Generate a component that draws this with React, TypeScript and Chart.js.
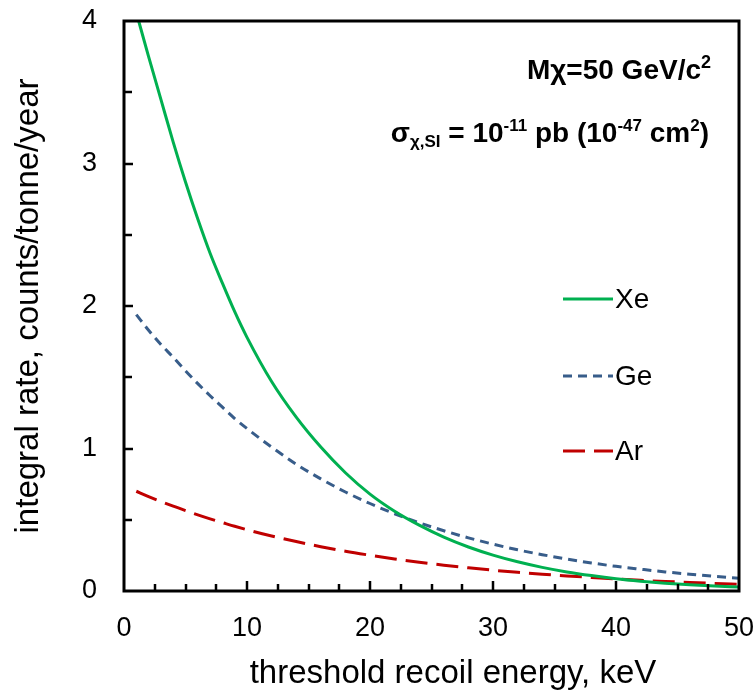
import React, { useEffect, useRef } from "react";
import { Chart, registerables } from "chart.js";

Chart.register(...registerables);

// ---- data ----
const energies = [1, 2, 3, 4, 5, 6, 7, 8, 9, 10, 12, 14, 16, 18, 20, 22, 24, 26, 28, 30, 32, 34, 36, 38, 40, 42, 44, 46, 48, 50];
const xeRate = [4.06, 3.75, 3.45, 3.15, 2.87, 2.61, 2.37, 2.16, 1.96, 1.78, 1.47, 1.22, 1.01, 0.83, 0.68, 0.56, 0.462, 0.378, 0.309, 0.252, 0.205, 0.166, 0.134, 0.108, 0.086, 0.069, 0.055, 0.044, 0.035, 0.028];
const geRate = [1.94, 1.83, 1.73, 1.64, 1.545, 1.455, 1.37, 1.29, 1.21, 1.14, 1.01, 0.89, 0.787, 0.695, 0.614, 0.542, 0.479, 0.423, 0.373, 0.329, 0.289, 0.255, 0.224, 0.197, 0.173, 0.153, 0.134, 0.118, 0.103, 0.09];
const arRate = [0.7, 0.663, 0.628, 0.595, 0.564, 0.534, 0.506, 0.48, 0.454, 0.43, 0.386, 0.347, 0.311, 0.279, 0.251, 0.225, 0.202, 0.181, 0.163, 0.146, 0.131, 0.118, 0.106, 0.095, 0.084, 0.075, 0.067, 0.06, 0.053, 0.047];
const seriesNames = ["Xe", "Ge", "Ar"];
const xRange = [0, 50];
const yRange = [0, 4];
const xMajorStep = 10;
const xMinorStep = 2.5;
const yMajorStep = 1;
const yMinorStep = 0.5;
const xTitle = "threshold recoil energy, keV";
const yTitle = "integral rate, counts/tonne/year";

const FONT = '"Liberation Sans", Arial, Helvetica, sans-serif';

type Run = { t: string; size: number; dy: number };

function drawRuns(ctx: CanvasRenderingContext2D, runs: Run[], right: number, baseline: number) {
  let total = 0;
  const widths = runs.map((r) => {
    ctx.font = `bold ${r.size}px ${FONT}`;
    const w = ctx.measureText(r.t).width;
    total += w;
    return w;
  });
  let x = right - total;
  runs.forEach((r, i) => {
    ctx.font = `bold ${r.size}px ${FONT}`;
    ctx.fillText(r.t, x, baseline + r.dy);
    x += widths[i];
  });
}

const decorPlugin = {
  id: "decor",
  afterDatasetsDraw(chart: any) {
    const { ctx, chartArea: a, scales } = chart;
    const xs = scales.x;
    const ys = scales.y;
    ctx.save();
    ctx.setLineDash([]);
    ctx.strokeStyle = "#000";
    ctx.lineWidth = 3;
    ctx.strokeRect(a.left, a.top, a.right - a.left, a.bottom - a.top);
    ctx.lineWidth = 2.5;
    ctx.beginPath();
    for (let v = xRange[0] + xMinorStep; v < xRange[1]; v += xMinorStep) {
      const px = Math.round(xs.getPixelForValue(v));
      const len = Math.abs(v % xMajorStep) < 1e-9 ? 10 : 7;
      ctx.moveTo(px, a.bottom);
      ctx.lineTo(px, a.bottom - len);
    }
    for (let v = yRange[0] + yMinorStep; v < yRange[1]; v += yMinorStep) {
      const py = Math.round(ys.getPixelForValue(v));
      const len = Math.abs(v % yMajorStep) < 1e-9 ? 9 : 8;
      ctx.moveTo(a.left, py);
      ctx.lineTo(a.left + len, py);
    }
    ctx.stroke();

    // legend
    const legendY = [299, 376, 451];
    chart.data.datasets.forEach((ds: any, i: number) => {
      ctx.strokeStyle = ds.borderColor;
      ctx.lineWidth = ds.borderWidth;
      ctx.setLineDash(ds.borderDash || []);
      ctx.beginPath();
      ctx.moveTo(563, legendY[i]);
      ctx.lineTo(613, legendY[i]);
      ctx.stroke();
      ctx.setLineDash([]);
      ctx.fillStyle = "#000";
      ctx.font = `28px ${FONT}`;
      ctx.textAlign = "left";
      ctx.textBaseline = "middle";
      ctx.fillText(ds.label, 615, legendY[i] + 1);
    });

    // annotations
    ctx.fillStyle = "#000";
    ctx.textAlign = "left";
    ctx.textBaseline = "alphabetic";
    drawRuns(ctx, [
      { t: "M\u03C7=50 GeV/c", size: 28, dy: 0 },
      { t: "2", size: 18, dy: -11 },
    ], 711, 79);
    drawRuns(ctx, [
      { t: "\u03C3", size: 28, dy: 0 },
      { t: "\u03C7,SI", size: 17, dy: 5 },
      { t: " = 10", size: 28, dy: 0 },
      { t: "-11", size: 17, dy: -11 },
      { t: " pb (10", size: 28, dy: 0 },
      { t: "-47", size: 17, dy: -11 },
      { t: " cm", size: 28, dy: 0 },
      { t: "2", size: 17, dy: -11 },
      { t: ")", size: 28, dy: 0 },
    ], 709, 142);
    ctx.restore();
  },
  afterDraw(chart: any) {
    const { ctx } = chart;
    ctx.save();
    ctx.fillStyle = "#000";
    ctx.font = `33px ${FONT}`;
    ctx.textAlign = "center";
    ctx.textBaseline = "alphabetic";
    ctx.fillText(xTitle, 453, 683);
    ctx.translate(38, (chart.chartArea.top + chart.chartArea.bottom) / 2);
    ctx.rotate(-Math.PI / 2);
    ctx.fillText(yTitle, 0, 0);
    ctx.restore();
  },
};

export default function App() {
  const ref = useRef<HTMLCanvasElement | null>(null);
  useEffect(() => {
    document.body.style.margin = "0";
    const canvas = ref.current;
    if (!canvas) return;
    const mk = (vals: number[]) => energies.map((x, i) => ({ x, y: vals[i] }));
    const chart = new Chart(canvas, {
      type: "line",
      data: {
        datasets: [
          { label: seriesNames[0], data: mk(xeRate), borderColor: "#00B050", borderWidth: 3, pointRadius: 0, cubicInterpolationMode: "monotone", fill: false },
          { label: seriesNames[1], data: mk(geRate), borderColor: "#385D8A", borderWidth: 3, borderDash: [9, 6], pointRadius: 0, cubicInterpolationMode: "monotone", fill: false },
          { label: seriesNames[2], data: mk(arRate), borderColor: "#C00000", borderWidth: 3, borderDash: [22, 9], pointRadius: 0, cubicInterpolationMode: "monotone", fill: false },
        ],
      },
      options: {
        animation: false,
        responsive: false,
        devicePixelRatio: 1,
        layout: { padding: { top: 21, right: 17, left: 0, bottom: 0 } },
        plugins: { legend: { display: false }, tooltip: { enabled: false } },
        scales: {
          x: {
            type: "linear",
            min: xRange[0],
            max: xRange[1],
            grid: { display: false, drawTicks: false },
            border: { display: false },
            ticks: { stepSize: xMajorStep, color: "#000", font: { family: FONT, size: 27 }, padding: 21, maxRotation: 0 },
            afterFit: (s: any) => { s.height = 100; s.paddingLeft = 0; s.paddingRight = 0; },
          },
          y: {
            type: "linear",
            min: yRange[0],
            max: yRange[1],
            grid: { display: false, drawTicks: false },
            border: { display: false },
            ticks: { stepSize: yMajorStep, color: "#000", font: { family: FONT, size: 27 }, padding: 27 },
            afterFit: (s: any) => { s.width = 124; s.paddingTop = 0; s.paddingBottom = 0; },
          },
        },
      },
      plugins: [decorPlugin],
    } as any);
    return () => chart.destroy();
  }, []);
  return (
    <div style={{ width: 756, height: 691, background: "#fff" }}>
      <canvas ref={ref} width={756} height={691} style={{ display: "block" }} />
    </div>
  );
}
